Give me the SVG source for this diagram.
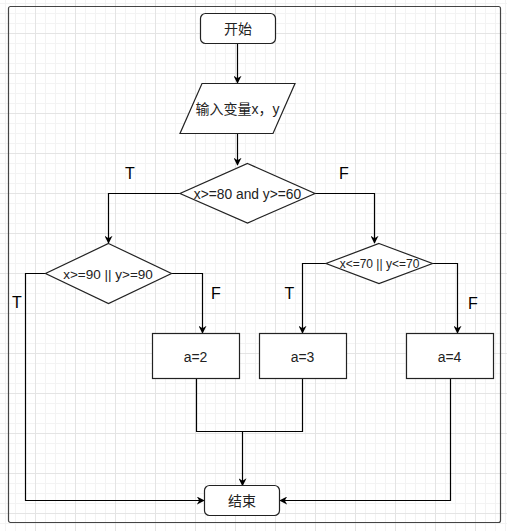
<svg xmlns="http://www.w3.org/2000/svg" width="507" height="531" viewBox="0 0 507 531">
<defs>
<pattern id="grid" width="40" height="40" patternUnits="userSpaceOnUse" x="35" y="33">
<path d="M10.5,0V40M20.5,0V40M30.5,0V40M0,10.5H40M0,20.5H40M0,30.5H40" stroke="#f3f3f3" stroke-width="1" fill="none"/>
<path d="M0.5,0V40M0,0.5H40" stroke="#e4e4e4" stroke-width="1" fill="none"/>
</pattern>
<marker id="arr" viewBox="0 0 10 10" refX="9" refY="5" markerWidth="8" markerHeight="8" markerUnits="userSpaceOnUse" orient="auto">
<path d="M0,0 L10,5 L0,10 L3,5 Z" fill="#000"/>
</marker>
<style>
.shape{fill:#fff;stroke:#222;stroke-width:1.2}
.conn{fill:none;stroke:#000;stroke-width:1.2}
.arrow{marker-end:url(#arr)}
text{font-family:"Liberation Sans",Arial,"Noto Sans CJK SC",sans-serif;fill:#222;text-anchor:middle;dominant-baseline:central}
.lbl{font-size:16px;fill:#000}
</style>
</defs>
<rect x="0" y="0" width="507" height="531" fill="#fff"/>
<rect x="0" y="0" width="507" height="531" fill="url(#grid)"/>
<rect id="frame" x="8.5" y="6.5" width="492" height="516" rx="2" fill="none" stroke="#444" stroke-width="1.2"/>

<g id="connectors">
<path class="conn arrow" d="M237.5,43.5V83"/>
<path class="conn arrow" d="M237.5,133.5V165"/>
<path class="conn arrow" d="M180,193.5H108.5V243"/>
<path class="conn arrow" d="M315,193.5H374.5V243"/>
<path class="conn arrow" d="M45.5,273.5H25.5V500.5H204"/>
<path class="conn arrow" d="M171.5,273.5H202.5V333"/>
<path class="conn arrow" d="M326,263.5H302.5V333"/>
<path class="conn arrow" d="M432.5,263.5H457.5V333"/>
<path class="conn" d="M196.5,378.5V431.5H302.5V378.5"/>
<path class="conn arrow" d="M242.5,431.5V485.5"/>
<path class="conn arrow" d="M450.5,378.5V500.5H280"/>
</g>

<g id="start">
<rect class="shape" x="200.5" y="13.5" width="75" height="30" rx="5"/>
<text x="238" y="29" font-size="14">开始</text>
</g>
<g id="input">
<polygon class="shape" points="202,83.5 295,83.5 273,133.5 180,133.5"/>
<text x="237.5" y="109" font-size="14">输入变量x，y</text>
</g>
<g id="cond1">
<polygon class="shape" points="247.5,163.5 315,193.5 247.5,223 180,193.5"/>
<text x="247.5" y="194" font-size="13.8">x&gt;=80 and y&gt;=60</text>
</g>
<g id="cond2">
<polygon class="shape" points="108.5,243.5 171.5,273.5 108.5,303.5 45.5,273.5"/>
<text x="108" y="274" font-size="13.5">x&gt;=90 || y&gt;=90</text>
</g>
<g id="cond3">
<polygon class="shape" points="379,243.5 432.5,263.5 379,283.5 326,263.5"/>
<text x="379.5" y="264" font-size="12">x&lt;=70 || y&lt;=70</text>
</g>
<g id="a2">
<rect class="shape" x="152.5" y="333.5" width="87" height="45"/>
<text x="195.5" y="357" font-size="14">a=2</text>
</g>
<g id="a3">
<rect class="shape" x="259.5" y="333.5" width="87" height="45"/>
<text x="302.5" y="357" font-size="14">a=3</text>
</g>
<g id="a4">
<rect class="shape" x="406.5" y="333.5" width="87" height="45"/>
<text x="449.5" y="357" font-size="14">a=4</text>
</g>
<g id="end">
<rect class="shape" x="204.5" y="485.5" width="75" height="30" rx="5"/>
<text x="242" y="501" font-size="14">结束</text>
</g>

<g id="labels">
<text class="lbl" x="130" y="173">T</text>
<text class="lbl" x="344" y="173">F</text>
<text class="lbl" x="17" y="302">T</text>
<text class="lbl" x="216" y="293">F</text>
<text class="lbl" x="289.5" y="293">T</text>
<text class="lbl" x="473" y="303">F</text>
</g>
</svg>
